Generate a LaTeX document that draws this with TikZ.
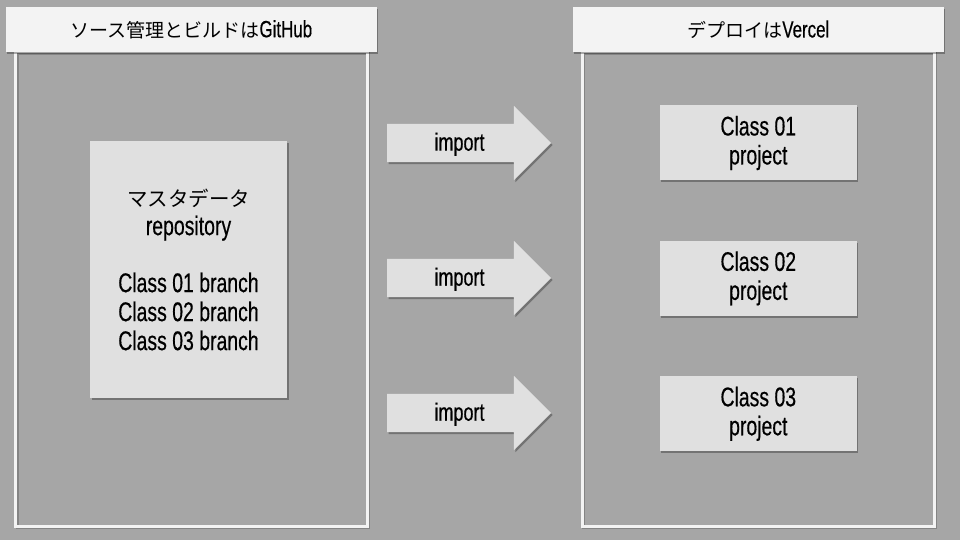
\documentclass[tikz,border=0pt]{standalone}
\usepackage{fontspec}
\setmainfont{Liberation Sans}[FakeStretch=0.72,FakeBold=0.4]
\newfontfamily\jpfont{Noto Sans CJK JP}
\usetikzlibrary{positioning,shapes.arrows,shadows}
\definecolor{bggray}{HTML}{A6A6A6}
\definecolor{paneline}{HTML}{F3F3F3}
\definecolor{boxgray}{HTML}{E0E0E0}
\tikzset{
  softshadow/.style={drop shadow={shadow xshift=1.5pt,shadow yshift=-2pt,opacity=0.3,fill=black}},
  header/.style={fill=paneline,softshadow,minimum width=371pt,minimum height=44.5pt,inner sep=0pt,
    font=\fontsize{23.5}{28}\selectfont},
  pane/.style={draw=paneline,line width=3pt},
  paneshade/.style={draw=black,opacity=0.2,line width=3pt},
  itembox/.style={fill=boxgray,softshadow,minimum width=197pt,inner sep=0pt,align=center,
    font=\fontsize{27}{29}\selectfont},
  importarrow/.style={single arrow,fill=boxgray,softshadow,minimum height=164pt,
    single arrow head extend=18pt,inner xsep=0pt,inner ysep=0pt,text height=26.7pt,text depth=11.3pt,
    font=\fontsize{25}{28}\selectfont}
}
% japanese text at its own size
\newcommand\jp[2]{{\jpfont\fontsize{#1}{29}\selectfont #2}}
\begin{document}
\begin{tikzpicture}[x=1pt,y=-1pt]
  \useasboundingbox (0,0) rectangle (960,540);
  \fill[bggray] (0,0) rectangle (960,540);
  % left pane: source and build
  \draw[paneshade] (17.2,53.5) rectangle (368.8,527.8);
  \draw[pane] (15.7,52) rectangle (367.3,526.3);
  \node[header] (gh) at (191.3,29.5) {\jp{19}{ソース管理とビルドは}GitHub};
  % right pane: deploy
  \draw[paneshade] (583.8,53.5) rectangle (935.8,527.8);
  \draw[pane] (582.3,52) rectangle (934.3,526.3);
  \node[header] (vc) at (758.3,29.5) {\jp{19}{デプロイは}Vercel};
  % master repository with its branches:
  \node[itembox,minimum height=257pt] (repo) at (188.5,269.5)
    {\jp{20.5}{マスタデータ}\\repository\\[28pt]Class 01 branch\\Class 02 branch\\Class 03 branch};
  % one vercel project per class:
  \node[itembox,minimum height=75pt] (cls1) at (758.3,143) {Class 01\\project};
  \node[itembox,minimum height=75pt,below=60pt of cls1] (cls2) {Class 02\\project};
  \node[itembox,minimum height=75pt,below=60pt of cls2] (cls3) {Class 03\\project};
  % import arrows:
  \node[importarrow] (imp1) at (459.5,143) {import};
  \node[importarrow] (imp2) at (459.5,278) {import};
  \node[importarrow] (imp3) at (459.5,413) {import};
\end{tikzpicture}
\end{document}
